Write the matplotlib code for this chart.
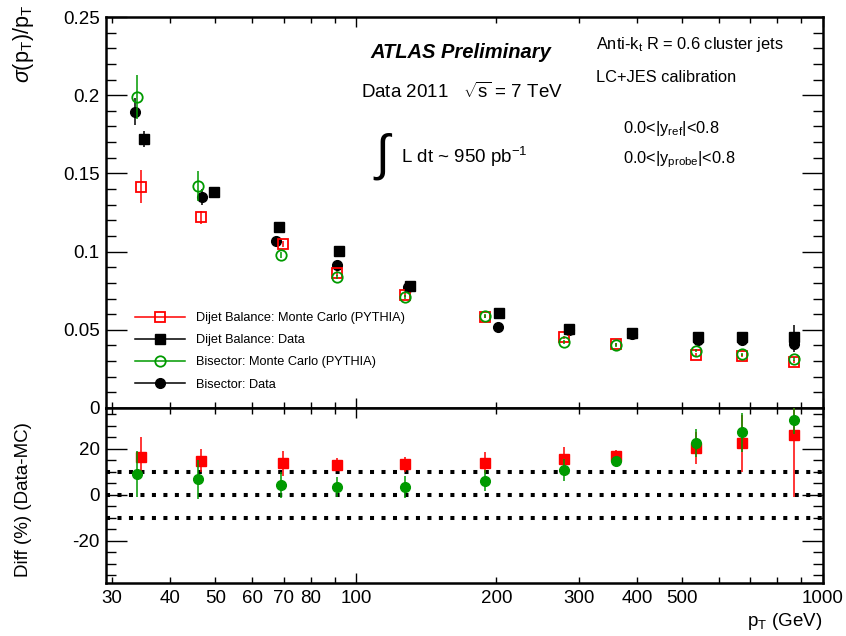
import matplotlib
matplotlib.use("Agg")
import matplotlib.pyplot as plt
from matplotlib.lines import Line2D
from matplotlib.ticker import FixedLocator, FixedFormatter, NullFormatter, MultipleLocator

plt.rcParams['font.family'] = ['Liberation Sans', 'DejaVu Sans']
plt.rcParams['mathtext.fontset'] = 'custom'
plt.rcParams['mathtext.rm'] = 'Liberation Sans'
plt.rcParams['mathtext.it'] = 'Liberation Sans:italic'
plt.rcParams['mathtext.bf'] = 'Liberation Sans:bold'

# ---- resolution vs pT (top panel) ----
pt_db_mc = [34.7, 46.5, 69.7, 91.1, 127.3, 188.9, 279.3, 360.4, 534.9, 672.4, 866.9]
res_db_mc = [0.1415, 0.1219, 0.1047, 0.0861, 0.0722, 0.0584, 0.0452, 0.0407, 0.0342, 0.0334, 0.0296]
err_db_mc = [0.0105, 0.0040, 0.0020, 0.0015, 0.0012, 0.0010, 0.0010, 0.0010, 0.0010, 0.0010, 0.0010]

pt_db_data = [35.2, 49.7, 68.4, 91.8, 130.5, 202.4, 286.2, 391.3, 540.8, 671.8, 866.9]
res_db_data = [0.1718, 0.1381, 0.1155, 0.1002, 0.0780, 0.0606, 0.0503, 0.0478, 0.0454, 0.0457, 0.0457]
err_db_data = [0.0050, 0.0020, 0.0012, 0.0010, 0.0010, 0.0010, 0.0010, 0.0010, 0.0015, 0.0020, 0.0075]

pt_bis_mc = [34.0, 45.9, 69.0, 91.1, 127.3, 188.9, 278.9, 360.4, 534.9, 672.4, 866.9]
res_bis_mc = [0.1987, 0.1419, 0.0978, 0.0838, 0.0708, 0.0588, 0.0422, 0.0403, 0.0366, 0.0343, 0.0313]
err_bis_mc = [0.0140, 0.0095, 0.0020, 0.0015, 0.0012, 0.0010, 0.0010, 0.0010, 0.0010, 0.0010, 0.0010]

pt_bis_data = [33.7, 46.7, 67.4, 90.9, 129.4, 201.7, 285.8, 391.3, 540.8, 671.8, 866.9]
res_bis_data = [0.1894, 0.1349, 0.1068, 0.0914, 0.0772, 0.0520, 0.0500, 0.0476, 0.0435, 0.0435, 0.0409]
err_bis_data = [0.0085, 0.0050, 0.0020, 0.0015, 0.0012, 0.0010, 0.0010, 0.0010, 0.0015, 0.0020, 0.0050]

# ---- relative difference Data-MC in % (bottom panel) ----
diff_db = [16.6, 14.8, 13.7, 13.0, 13.3, 14.0, 15.4, 16.9, 20.2, 22.4, 26.0]
diff_db_err = [8.4, 5.0, 5.4, 2.8, 3.3, 4.7, 5.4, 2.5, 7.0, 12.4, 26.8]
diff_bis = [9.0, 6.7, 4.3, 3.3, 3.5, 6.1, 10.8, 14.8, 22.4, 27.2, 32.5]
diff_bis_err = [10.0, 8.5, 5.5, 4.3, 4.8, 4.5, 4.9, 2.0, 6.1, 8.4, 6.0]

ref_lines = [10, 0, -10]

x_major = [100, 1000]
x_minor = [30, 40, 50, 60, 70, 80, 90, 200, 300, 400, 500, 600, 700, 800, 900]
x_minor_labels = ["30", "40", "50", "60", "70", "80", "", "200", "300", "400", "500", "", "", "", ""]

labels = ["Dijet Balance: Monte Carlo (PYTHIA)", "Dijet Balance: Data",
          "Bisector: Monte Carlo (PYTHIA)", "Bisector: Data"]

RED = "#ff0000"
GREEN = "#009a00"

W, H = 846, 636
fig = plt.figure(figsize=(W / 100, H / 100), dpi=100)


def fx(px):
    return px / W


def fy(py):
    return 1 - py / H


x0, x1 = 106, 822.7
ax_top = fig.add_axes([fx(x0), fy(408), (x1 - x0) / W, (408 - 17) / H])
ax_bot = fig.add_axes([fx(x0), fy(583), (x1 - x0) / W, (583 - 408) / H])

XLIM = (29.15, 1000)

ms_open = 7.5
common = dict(capsize=0, elinewidth=1.1, linestyle='none')
ax_top.errorbar(pt_db_mc, res_db_mc, yerr=err_db_mc, fmt='s', ms=ms_open, mfc='none',
                mec=RED, mew=1.3, ecolor=RED, zorder=3, **common)
ax_top.errorbar(pt_db_data, res_db_data, yerr=err_db_data, fmt='s', ms=7.0, mfc='black',
                mec='black', ecolor='black', zorder=4, **common)
ax_top.errorbar(pt_bis_mc, res_bis_mc, yerr=err_bis_mc, fmt='o', ms=ms_open, mfc='none',
                mec=GREEN, mew=1.3, ecolor=GREEN, zorder=5, **common)
ax_top.errorbar(pt_bis_data, res_bis_data, yerr=err_bis_data, fmt='o', ms=7.0, mfc='black',
                mec='black', ecolor='black', zorder=2, **common)

ax_top.set_ylim(0, 0.25)
ax_top.yaxis.set_major_locator(FixedLocator([0, 0.05, 0.1, 0.15, 0.2, 0.25]))
ax_top.yaxis.set_major_formatter(FixedFormatter(["0", "0.05", "0.1", "0.15", "0.2", "0.25"]))
ax_top.yaxis.set_minor_locator(MultipleLocator(0.01))

# bottom panel
for yv in ref_lines:
    ax_bot.axhline(yv, color='black', lw=2.9, linestyle=(0, (1, 1.85)),
                   dash_capstyle='butt', zorder=1)
ax_bot.errorbar(pt_db_mc, diff_db, yerr=diff_db_err, fmt='s', ms=7.0, mfc=RED, mec=RED,
                ecolor=RED, zorder=3, **common)
ax_bot.errorbar(pt_bis_mc, diff_bis, yerr=diff_bis_err, fmt='o', ms=7.0, mfc=GREEN, mec=GREEN,
                ecolor=GREEN, zorder=4, **common)
ax_bot.set_ylim(-38.3, 37.7)
ax_bot.yaxis.set_major_locator(FixedLocator([-20, 0, 20]))
ax_bot.yaxis.set_major_formatter(FixedFormatter(["-20", "0", "20"]))
ax_bot.yaxis.set_minor_locator(MultipleLocator(5))

for ax in (ax_top, ax_bot):
    ax.set_xscale('log')
    ax.set_xlim(*XLIM)
    ax.xaxis.set_major_locator(FixedLocator(x_major))
    ax.xaxis.set_minor_locator(FixedLocator(x_minor))
    for s in ax.spines.values():
        s.set_linewidth(1.8)
    ax.tick_params(which='both', direction='in', top=True, right=True, width=1.0,
                   labelsize=13.5, pad=4.5)
    ax.tick_params(axis='y', which='major', length=15)
    ax.tick_params(axis='y', which='minor', length=7.5)
    ax.tick_params(axis='x', which='major', length=7)
    ax.tick_params(axis='x', which='minor', length=4)

ax_top.xaxis.set_major_formatter(NullFormatter())
ax_top.xaxis.set_minor_formatter(NullFormatter())
ax_bot.xaxis.set_major_formatter(FixedFormatter(["100", "1000"]))
ax_bot.xaxis.set_minor_formatter(FixedFormatter(x_minor_labels))
ax_bot.tick_params(axis='x', which='both', pad=5)

# legend
handles = [
    Line2D([], [], color=RED, marker='s', ms=ms_open, mfc='none', mec=RED, mew=1.3, lw=1.1),
    Line2D([], [], color='black', marker='s', ms=7.0, mfc='black', lw=1.1),
    Line2D([], [], color=GREEN, marker='o', ms=ms_open, mfc='none', mec=GREEN, mew=1.3, lw=1.1),
    Line2D([], [], color='black', marker='o', ms=7.0, mfc='black', lw=1.1),
]
fig.legend(handles, labels, loc='upper left', bbox_to_anchor=(fx(135), fy(312)),
           bbox_transform=fig.transFigure, frameon=False, fontsize=9.2, handlelength=3.9,
           handletextpad=0.9, labelspacing=0.8, borderpad=0, borderaxespad=0)

# annotations
fig.text(fx(370), fy(52), "ATLAS Preliminary", fontsize=14.5, fontweight='bold',
         fontstyle='italic', ha='left', va='center')
fig.text(fx(361), fy(92), r"Data 2011   $\sqrt{\mathrm{s}}$ = 7 TeV", fontsize=13.5,
         ha='left', va='center')
fig.text(fx(375), fy(156), "\u222b", fontsize=36, ha='left', va='center')
fig.text(fx(401), fy(157), r"L dt ~ 950 pb$^{\mathrm{-1}}$", fontsize=13.5,
         ha='left', va='center')
fig.text(fx(596), fy(45), r"Anti-k$_{\mathrm{t}}$ R = 0.6 cluster jets", fontsize=11.8,
         ha='left', va='center')
fig.text(fx(596), fy(78), "LC+JES calibration", fontsize=11.8, ha='left', va='center')
fig.text(fx(623), fy(128), r"0.0<|y$_{\mathrm{ref}}$|<0.8", fontsize=11.8,
         ha='left', va='center')
fig.text(fx(623), fy(160), r"0.0<|y$_{\mathrm{probe}}$|<0.8", fontsize=11.8,
         ha='left', va='center')

# axis titles
fig.text(fx(24), fy(5), r"$\sigma$(p$_{\mathrm{T}}$)/p$_{\mathrm{T}}$", fontsize=15.5,
         rotation=90, ha='center', va='top')
fig.text(fx(24), fy(500), "Diff (%) (Data-MC)", fontsize=13.5, rotation=90,
         ha='center', va='center')
fig.text(fx(822), fy(621), r"p$_{\mathrm{T}}$ (GeV)", fontsize=13.5, ha='right',
         va='center')

fig.savefig("out.png", dpi=100)
